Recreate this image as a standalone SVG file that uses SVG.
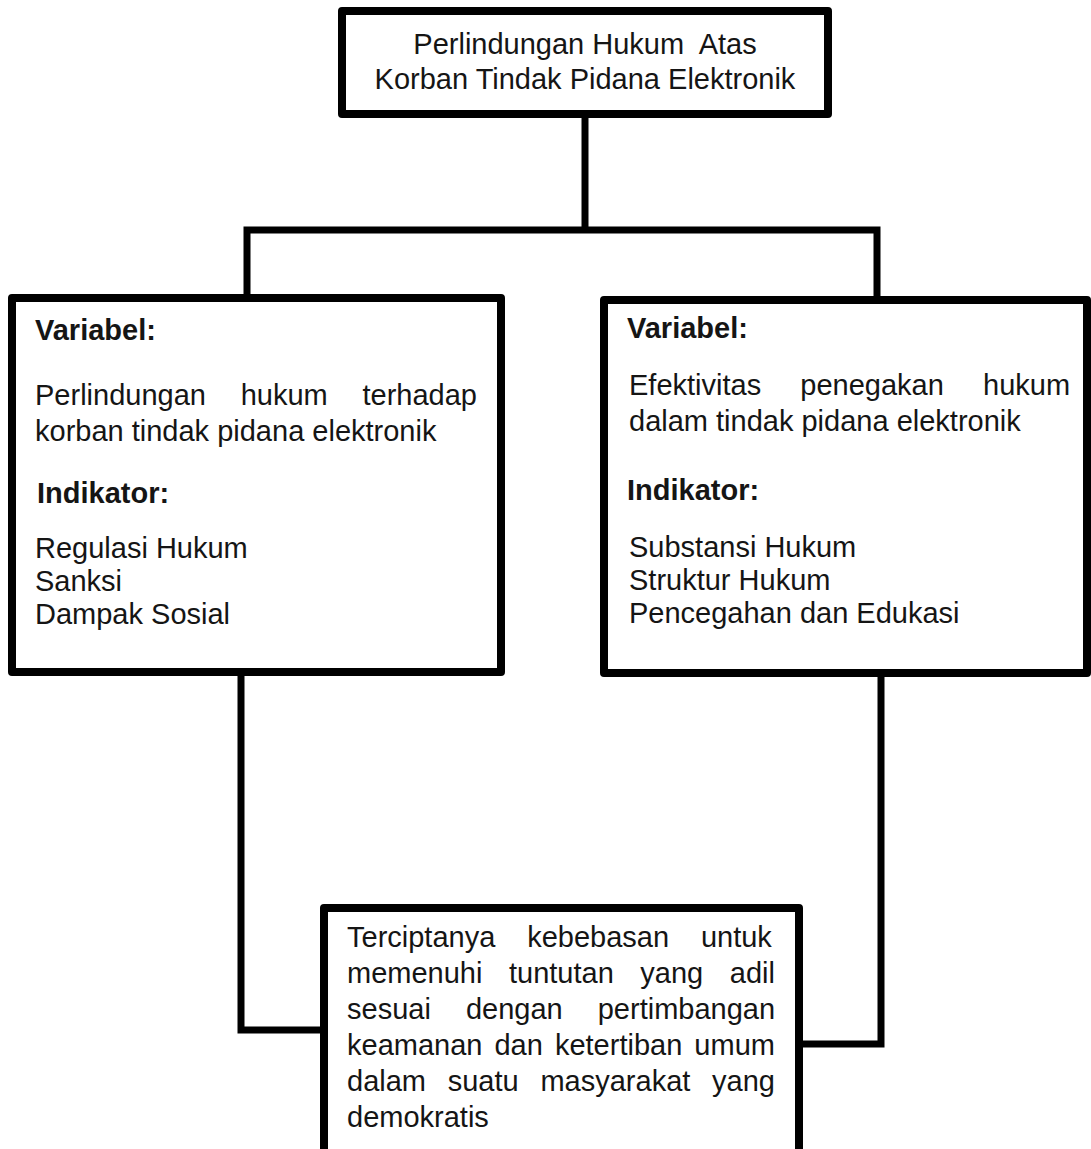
<svg xmlns="http://www.w3.org/2000/svg" width="1091" height="1149" viewBox="0 0 1091 1149">
<style>
.box{fill:#fff;stroke:#000;stroke-width:8;stroke-linejoin:round}
.con{fill:none;stroke:#000;stroke-width:7;stroke-linejoin:miter}
text{font-family:"Liberation Sans",Arial,sans-serif;font-size:29px;fill:#151515}
.b{font-weight:bold}
</style>
<rect width="1091" height="1149" fill="#fff"/>
<g id="connectors">
<path class="con" d="M585 114 V230"/>
<path class="con" d="M247 298 V230 H877 V300"/>
<path class="con" d="M241 672 V1030 H324"/>
<path class="con" d="M881 673 V1044 H799"/>
</g>
<g id="top">
<rect class="box" x="342" y="11" width="486" height="103"/>
<text x="585" y="54" text-anchor="middle" xml:space="preserve" style="white-space:pre">Perlindungan Hukum  Atas</text>
<text x="585" y="89" text-anchor="middle">Korban Tindak Pidana Elektronik</text>
</g>
<g id="left">
<rect class="box" x="12" y="298" width="489" height="374"/>
<text class="b" x="35" y="340">Variabel:</text>
<text x="35" y="405" word-spacing="26.7">Perlindungan hukum terhadap</text>
<text x="35" y="441">korban tindak pidana elektronik</text>
<text class="b" x="37" y="503">Indikator:</text>
<text x="35" y="558">Regulasi Hukum</text>
<text x="35" y="591">Sanksi</text>
<text x="35" y="624">Dampak Sosial</text>
</g>
<g id="right">
<rect class="box" x="604" y="300" width="483" height="373"/>
<text class="b" x="627" y="338">Variabel:</text>
<text x="629" y="395" word-spacing="31.1">Efektivitas penegakan hukum</text>
<text x="629" y="431">dalam tindak pidana elektronik</text>
<text class="b" x="627" y="500">Indikator:</text>
<text x="629" y="557">Substansi Hukum</text>
<text x="629" y="590">Struktur Hukum</text>
<text x="629" y="623">Pencegahan dan Edukasi</text>
</g>
<g id="bottom">
<rect class="box" x="324" y="908" width="475" height="260"/>
<text x="347" y="947" word-spacing="23.8">Terciptanya kebebasan untuk</text>
<text x="347" y="983" word-spacing="18.5">memenuhi tuntutan yang adil</text>
<text x="347" y="1019" word-spacing="27">sesuai dengan pertimbangan</text>
<text x="347" y="1055" word-spacing="4">keamanan dan ketertiban umum</text>
<text x="347" y="1091" word-spacing="13.7">dalam suatu masyarakat yang</text>
<text x="347" y="1127">demokratis</text>
</g>
</svg>
